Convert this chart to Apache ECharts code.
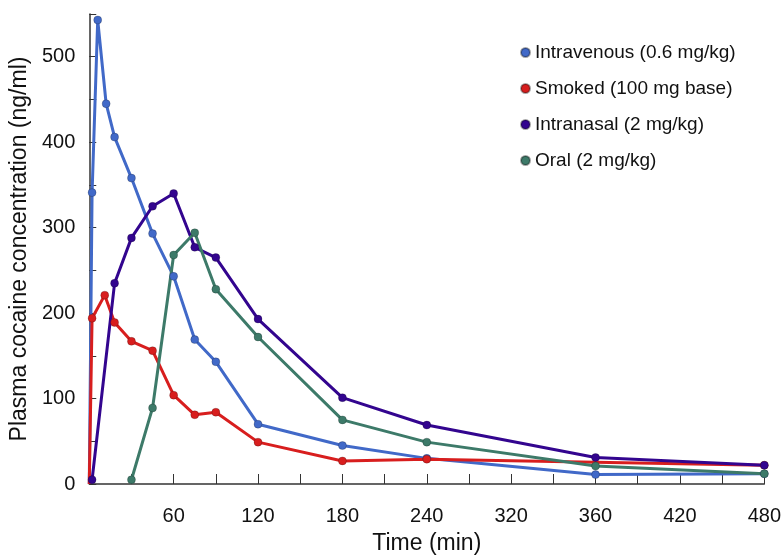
<!DOCTYPE html>
<html>
<head>
<meta charset="utf-8">
<script src="https://cdn.jsdelivr.net/npm/echarts@6/dist/echarts.min.js"></script>
<style>html,body{margin:0;background:#fff}#c{width:784px;height:560px}</style>
</head>
<body>
<div id="c"></div>
<script>
// [time (min), concentration (ng/ml)]
var intravenous = [[0,0],[2,341],[6,543],[12,445],[18,406],[30,358],[45,293],[60,243],[75,169],[90,143],[120,70],[180,45],[240,30],[360,11],[480,12]];
var smoked = [[0,0],[2,194],[11,221],[18,189],[30,167],[45,156],[60,104],[75,81],[90,84],[120,49],[180,27],[240,29],[480,22]];
var intranasal = [[2,5],[18,235],[30,288],[45,325],[60,340],[75,277],[90,265],[120,193],[180,101],[240,69],[360,31],[480,22]];
var oral = [[30,5],[45,89],[60,268],[75,294],[90,228],[120,172],[180,75],[240,49],[360,21],[480,12]];
var names = ['Intravenous (0.6 mg/kg)', 'Smoked (100 mg base)', 'Intranasal (2 mg/kg)', 'Oral (2 mg/kg)'];
var colors = ['#4169c8', '#d81e1e', '#33058f', '#3d7a69'];

function mk(i, data) {
    return {
        name: names[i], type: 'line', color: colors[i],
        data: data.map(function (d) {
            return d[0] === 0 ? { value: d, symbol: 'none' } : d;
        }),
        symbol: 'circle', symbolSize: 8,
        lineStyle: { width: 3 },
        itemStyle: { borderColor: 'rgba(0,0,0,0.35)', borderWidth: 0.6 }
    };
}

var chart = echarts.init(document.getElementById('c'));
chart.setOption({
    animation: false,
    textStyle: { fontFamily: 'Liberation Sans, Arial, sans-serif' },
    grid: { left: 85, right: 14, top: 14, bottom: 60 },
    legend: {
        orient: 'vertical', left: 515, top: 38, itemGap: 17,
        icon: 'circle', itemWidth: 9, itemHeight: 9,
        textStyle: { fontSize: 19, color: '#111' },
        data: names
    },
    xAxis: {
        type: 'value', min: 0, max: 480, interval: 30,
        name: 'Time (min)', nameLocation: 'middle', nameGap: 48,
        nameTextStyle: { fontSize: 23, color: '#111' },
        axisLine: { lineStyle: { color: '#333', width: 1.5 } },
        axisTick: { inside: true, length: 10, lineStyle: { color: '#333' } },
        axisLabel: {
            fontSize: 20, color: '#111', margin: 22,
            formatter: function (v) { return (v === 0 || v % 60) ? '' : (v === 300 ? '320' : String(v)); }
        },
        splitLine: { show: false }
    },
    yAxis: {
        type: 'value', min: 0, max: 550, interval: 50,
        name: 'Plasma cocaine concentration (ng/ml)', nameLocation: 'middle', nameGap: 56,
        nameTextStyle: { fontSize: 23, color: '#111' },
        axisLine: { show: true, lineStyle: { color: '#333', width: 1.5 } },
        axisTick: { inside: true, length: 7, lineStyle: { color: '#333' } },
        axisLabel: {
            fontSize: 20, color: '#111', margin: 14,
            formatter: function (v) { return (v % 100 || v > 500) ? '' : String(v); }
        },
        splitLine: { show: false }
    },
    series: [mk(0, intravenous), mk(1, smoked), mk(2, intranasal), mk(3, oral)]
});
</script>
</body>
</html>
